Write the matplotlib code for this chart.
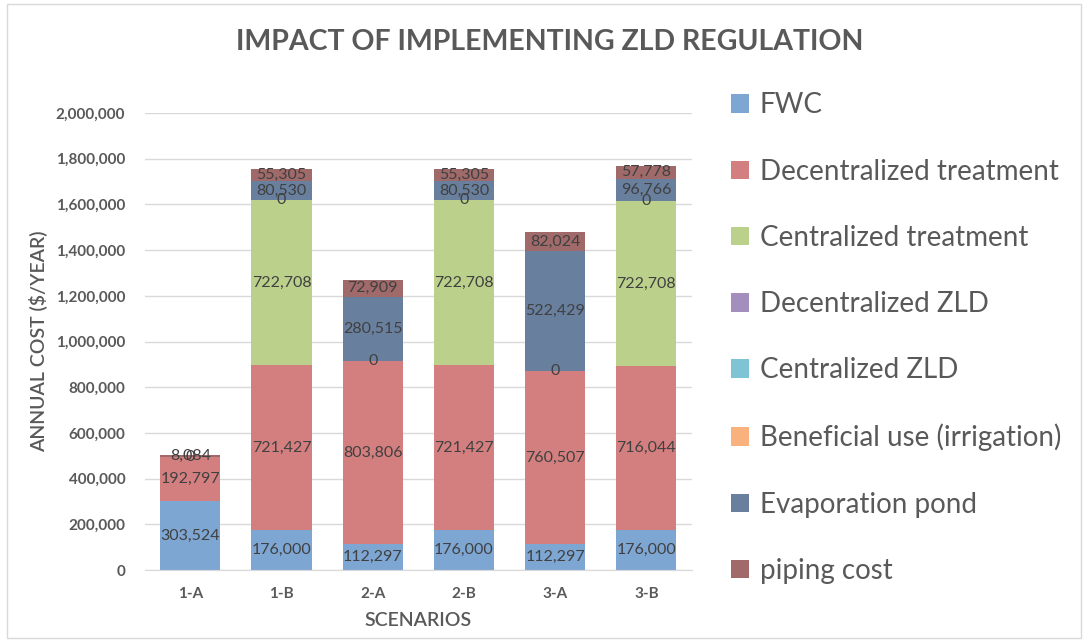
"""Stacked bar chart: impact of implementing ZLD regulation."""
import matplotlib
matplotlib.use("Agg")
import matplotlib.pyplot as plt
from matplotlib.patches import Rectangle
from matplotlib.ticker import FuncFormatter
import numpy as np

plt.rcParams["font.family"] = ["Lato", "DejaVu Sans"]

scenarios = ["1-A", "1-B", "2-A", "2-B", "3-A", "3-B"]
series_names = ["FWC", "Decentralized treatment", "Centralized treatment",
                "Decentralized ZLD", "Centralized ZLD",
                "Beneficial use (irrigation)", "Evaporation pond", "piping cost"]
fwc = [303524, 176000, 112297, 176000, 112297, 176000]
decentral_treat = [192797, 721427, 803806, 721427, 760507, 716044]
central_treat = [0, 722708, 0, 722708, 0, 722708]
decentral_zld = [0, 0, 0, 0, 0, 0]
central_zld = [0, 0, 0, 0, 0, 0]
beneficial = [0, 0, 0, 0, 0, 0]
evap_pond = [0, 80530, 280515, 80530, 522429, 96766]
piping = [8084, 55305, 72909, 55305, 82024, 57778]

colors = ["#7ea6d3", "#d47f7f", "#bbd08b", "#a48ebe",
          "#7fc4d4", "#f9b27d", "#687f9e", "#a06a6a"]
GRAY = "#595959"

fig = plt.figure(figsize=(10.88, 6.42), dpi=100)
ax = fig.add_axes([0.133, 0.112, 0.503, 0.712])
fig.patches.append(Rectangle((0.006, 0.006), 0.988, 0.988, transform=fig.transFigure,
                             fill=False, edgecolor="#d9d9d9", lw=1))

data = [fwc, decentral_treat, central_treat, decentral_zld, central_zld,
        beneficial, evap_pond, piping]
x = np.arange(len(scenarios))
bottom = np.zeros(len(scenarios))
for i, (name, vals) in enumerate(zip(series_names, data)):
    vals = np.array(vals, dtype=float)
    ax.bar(x, vals, width=0.66, bottom=bottom, color=colors[i], label=name, zorder=2)
    for xi, b, v in zip(x, bottom, vals):
        if v > 0 or name == "Beneficial use (irrigation)":
            ax.text(xi, b + v / 2, f"{v:,.0f}", ha="center", va="center",
                    fontsize=11.5, color="#404040", zorder=3)
    bottom += vals

ax.set_xlim(-0.5, len(scenarios) - 0.5)
ax.set_ylim(0, 2000000)
ax.set_yticks(np.arange(0, 2000001, 200000))
ax.yaxis.set_major_formatter(FuncFormatter(lambda v, p: f"{v:,.0f}"))
ax.set_xticks(x)
ax.set_xticklabels(scenarios)
ax.grid(axis="y", color="#d9d9d9", lw=1, zorder=0)
for s in ["top", "right", "left"]:
    ax.spines[s].set_visible(False)
ax.spines["bottom"].set_color("#d9d9d9")
ax.tick_params(axis="y", length=0, colors=GRAY, labelsize=11, pad=14)
ax.tick_params(axis="x", length=0, colors=GRAY, labelsize=11, pad=12)
for lab in ax.get_xticklabels() + ax.get_yticklabels():
    lab.set_fontweight("bold")
ax.set_ylabel("ANNUAL COST ($/YEAR)", fontsize=14, color=GRAY, labelpad=6,
              fontweight="semibold")
ax.set_xlabel("SCENARIOS", fontsize=14, color=GRAY, labelpad=8,
              fontweight="semibold")

fig.suptitle("IMPACT OF IMPLEMENTING ZLD REGULATION", x=0.505, y=0.955,
             fontsize=20.5, fontweight="bold", color=GRAY)

leg = ax.legend(loc="upper left", bbox_to_anchor=(1.025, 1.1), frameon=False,
                fontsize=20, labelspacing=1.45, handlelength=0.65, handleheight=0.65,
                handletextpad=0.4, labelcolor=GRAY)

fig.savefig("out.png", dpi=100)
